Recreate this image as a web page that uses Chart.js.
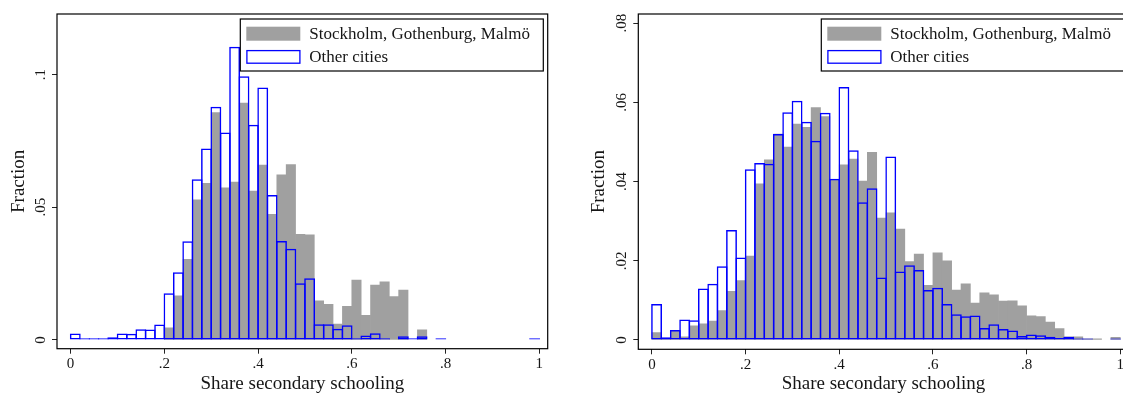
<!DOCTYPE html>
<html><head><meta charset="utf-8">
<script src="https://cdn.jsdelivr.net/npm/chart.js@4.4.1/dist/chart.umd.min.js"></script>
<style>
html,body{margin:0;padding:0;background:#fff;overflow:hidden;width:1123px;height:394px}
.p{position:absolute;top:0}
</style></head><body>
<div class="p" style="left:0;width:560px;height:394px"><canvas id="left" width="560" height="394"></canvas></div>
<div class="p" style="left:560px;width:580px;height:394px"><canvas id="right" width="580" height="394"></canvas></div>
<script>
// ---- data ----
const binStarts = [0,0.02,0.04,0.06,0.08,0.10,0.12,0.14,0.16,0.18,
  0.20,0.22,0.24,0.26,0.28,0.30,0.32,0.34,0.36,0.38,
  0.40,0.42,0.44,0.46,0.48,0.50,0.52,0.54,0.56,0.58,
  0.60,0.62,0.64,0.66,0.68,0.70,0.72,0.74,0.76,0.78,
  0.80,0.82,0.84,0.86,0.88,0.90,0.92,0.94,0.96,0.98];
const binWidth = 0.02;
const seriesLabels = ['Stockholm, Gothenburg, Malmö', 'Other cities'];
const xTickValues = [0, 0.2, 0.4, 0.6, 0.8, 1];
const xTickLabels = ['0', '.2', '.4', '.6', '.8', '1'];
const leftYTickValues = [0, 0.05, 0.1];
const leftYTickLabels = ['0', '.05', '.1'];
const rightYTickValues = [0, 0.02, 0.04, 0.06, 0.08];
const rightYTickLabels = ['0', '.02', '.04', '.06', '.08'];
const xTitle = 'Share secondary schooling';
const yTitle = 'Fraction';

// Left panel
const leftBigCities = [null,null,null,null,null,null,null,null,null,null,
  0.0046,0.0166,0.0304,0.0528,0.0590,0.0857,0.0573,0.0595,0.0892,0.0561,
  0.0659,0.0473,0.0622,0.0661,0.0398,0.0396,0.0147,0.0134,0.0060,0.0127,
  0.0226,0.0093,0.0207,0.0219,0.0163,0.0188,null,0.0038,null,null,
  null,null,null,null,null,null,null,null,null,null];
const leftOtherCities = [0.0024,0.0003,0.0003,0.0003,0.0010,0.0024,0.0023,0.0040,0.0039,0.0058,
  0.0176,0.0255,0.0372,0.0605,0.0721,0.0879,0.0782,0.1105,0.0993,0.0811,
  0.0951,0.0546,0.0373,0.0344,0.0214,0.0232,0.0059,0.0059,0.0042,0.0055,
  0.0003,0.0017,0.0025,0.0003,null,0.0014,0.0004,0.0014,null,0.0003,
  null,null,null,null,null,null,null,null,null,0.0003];

// Right panel
const rightBigCities = [0.0019,0.0003,0.0022,0.0008,0.0036,0.0041,0.0048,0.0074,0.0123,0.0150,
  0.0212,0.0394,0.0455,0.0520,0.0487,0.0545,0.0537,0.0587,0.0564,0.0404,
  0.0442,0.0457,0.0401,0.0474,0.0308,0.0321,0.0280,0.0198,0.0217,0.0138,
  0.0220,0.0200,0.0126,0.0142,0.0093,0.0119,0.0114,0.0098,0.0099,0.0086,
  0.0061,0.0059,0.0045,0.0029,0.0008,0.0008,0.0003,0.0003,null,0.0007];
const rightOtherCities = [0.0091,0.0007,0.0025,0.0052,0.0050,0.0130,0.0142,0.0186,0.0278,0.0208,
  0.0431,0.0447,0.0445,0.0520,0.0575,0.0604,0.0551,0.0503,0.0574,0.0407,
  0.0639,0.0479,0.0348,0.0383,0.0158,0.0463,0.0173,0.0189,0.0177,0.0126,
  0.0132,0.0091,0.0065,0.0060,0.0062,0.0030,0.0040,0.0028,0.0024,0.0010,
  0.0014,0.0012,0.0008,0.0005,0.0008,0.0002,0.0001,null,null,0.0003];

// ---- drawing ----
const FONT = '"Liberation Serif", "Times New Roman", serif';
const TEXT = '#161616';
const GRAY = '#a0a0a0';
const BLUE = '#0000ff';
const OUTLINE_W = 1.5;

const frameLegendPlugin = {
  id: 'frameLegend',
  afterDatasetsDraw(chart) {
    const {ctx, chartArea: a} = chart;
    const ds = chart.data.datasets;
    ctx.save();
    ctx.strokeStyle = '#000';
    ctx.lineWidth = 1.2;
    ctx.strokeRect(a.left, a.top, a.right - a.left, a.bottom - a.top);
    const bw = 303, bh = 52;
    const bx = a.right - 4.4 - bw, by = a.top + 5;
    ctx.fillStyle = '#fff';
    ctx.fillRect(bx, by, bw, bh);
    ctx.strokeRect(bx, by, bw, bh);
    ctx.fillStyle = ds[0].backgroundColor;
    ctx.fillRect(bx + 6, by + 7.7, 54, 14);
    ctx.strokeStyle = ds[1].borderColor;
    ctx.lineWidth = 1.3;
    ctx.strokeRect(bx + 6.6, by + 31.6, 53, 12.6);
    ctx.fillStyle = TEXT;
    ctx.font = '17px ' + FONT;
    ctx.textBaseline = 'middle';
    ctx.textAlign = 'left';
    ctx.fillText(ds[0].label, bx + 69, by + 16);
    ctx.fillText(ds[1].label, bx + 69, by + 38.6);
    ctx.restore();
  }
};

function makeChart(id, big, other, yTicks, yLabels, geo) {
  const toPts = arr => binStarts.map((b, i) => ({x: b + binWidth / 2, y: arr[i]}));
  return new Chart(document.getElementById(id), {
    type: 'bar',
    data: {
      datasets: [
        {label: seriesLabels[0], data: toPts(big), backgroundColor: GRAY, borderWidth: 0, order: 2,
         barPercentage: 1},
        {label: seriesLabels[1], data: toPts(other), backgroundColor: 'rgba(255,255,255,0)',
         borderColor: BLUE, borderWidth: OUTLINE_W, borderSkipped: false, minBarLength: 1.6, order: 1,
         barPercentage: 1.16}
      ]
    },
    options: {
      responsive: false, animation: false, devicePixelRatio: 1,
      layout: {padding: {left: 0, top: geo.top, right: geo.right, bottom: 0}},
      datasets: {bar: {grouped: false, categoryPercentage: 1}},
      plugins: {legend: {display: false}, tooltip: {enabled: false}},
      scales: {
        x: {
          type: 'linear', min: -0.029, max: 1.018, offset: false,
          afterBuildTicks: s => { s.ticks = xTickValues.map(v => ({value: v})); },
          afterFit: s => { s.height = geo.xAxisH; },
          ticks: {callback: (v, i) => xTickLabels[i], font: {family: FONT, size: 15}, color: TEXT,
                  padding: 1.5, maxRotation: 0, minRotation: 0, autoSkip: false},
          grid: {display: true, offset: false, drawOnChartArea: false, drawTicks: true, tickLength: 5, color: '#222', lineWidth: 1},
          border: {display: false},
          title: {display: true, text: xTitle, font: {family: FONT, size: 19, lineHeight: 1.1}, color: TEXT, padding: 0}
        },
        y: {
          type: 'linear', min: geo.yMin, max: geo.yMax,
          afterBuildTicks: s => { s.ticks = yTicks.map(v => ({value: v})); },
          afterFit: s => { s.width = geo.yAxisW; },
          ticks: {callback: (v, i) => yLabels[i], font: {family: FONT, size: 15}, color: TEXT,
                  padding: 2, minRotation: 90, maxRotation: 90, crossAlign: 'center', autoSkip: false},
          grid: {display: true, offset: false, drawOnChartArea: false, drawTicks: true, tickLength: 5, color: '#222', lineWidth: 1},
          border: {display: false},
          title: {display: true, text: yTitle, font: {family: FONT, size: 19, lineHeight: 1.2}, color: TEXT,
                  padding: {top: geo.yTitlePad, bottom: 0}}
        }
      }
    },
    plugins: [frameLegendPlugin]
  });
}

makeChart('left', leftBigCities, leftOtherCities, leftYTickValues, leftYTickLabels,
  {top: 14, right: 12.3, xAxisH: 45.3, yAxisW: 57, yTitlePad: 7.2, yMin: -0.0033, yMax: 0.1228});
makeChart('right', rightBigCities, rightOtherCities, rightYTickValues, rightYTickLabels,
  {top: 14, right: 11.3, xAxisH: 44.7, yAxisW: 78.3, yTitlePad: 27.2, yMin: -0.00235, yMax: 0.0823});
</script>
</body></html>
